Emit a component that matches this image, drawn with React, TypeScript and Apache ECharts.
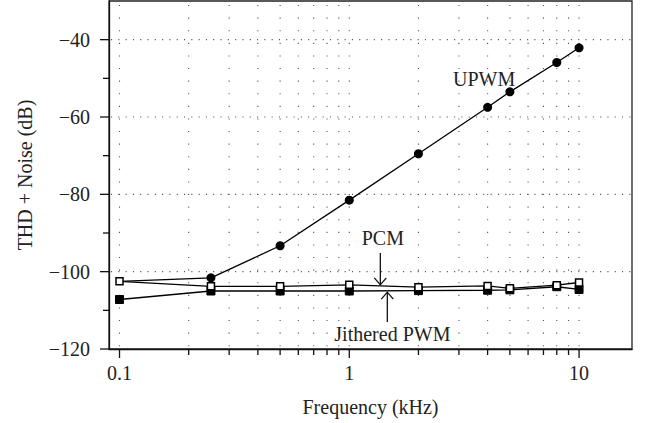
import React, { useEffect, useRef } from "react";
import * as echarts from "echarts";

const X_MIN = 0.09;
const X_MAX = 17;
const Y_MIN = -120;
const Y_MAX = -30;

const frequencies = [0.1, 0.25, 0.5, 1, 2, 4, 5, 8, 10];
const upwm = [-102.5, -101.6, -93.3, -81.5, -69.5, -57.5, -53.5, -45.9, -42.1];
const pcm = [-102.5, -103.8, -103.8, -103.4, -104.0, -103.7, -104.3, -103.5, -102.8];
const jitteredPwm = [-107.2, -105.0, -105.0, -105.0, -104.9, -104.8, -104.7, -103.9, -104.6];

const xGridValues = [
  0.1, 0.2, 0.3, 0.4, 0.5, 0.6, 0.7, 0.8, 0.9,
  1, 2, 3, 4, 5, 6, 7, 8, 9, 10,
];
const xLabelValues = [0.1, 1, 10];
const yTickValues = [-120, -110, -100, -90, -80, -70, -60, -50, -40];
const yLabelValues = [-120, -100, -80, -60, -40];
const yGridValues = [-100, -80, -60, -40];

const FONT = '"Liberation Serif", "Times New Roman", serif';
const INK = "#222";

const isMajorX = (v: number) => xLabelValues.some((m) => Math.abs(m - v) < 1e-9);
const isLabelY = (v: number) => yLabelValues.some((m) => Math.abs(m - v) < 1e-9);

export default function App() {
  const ref = useRef<HTMLDivElement>(null);

  useEffect(() => {
    if (!ref.current) return;
    const chart = echarts.init(ref.current, undefined, { renderer: "svg" });

    const option: any = {
      animation: false,
      backgroundColor: "#fff",
      textStyle: { fontFamily: FONT, color: INK },
      grid: {
        left: 109,
        right: 22,
        top: 1,
        bottom: 74,
        show: true,
        borderColor: "#222",
        borderWidth: 1.3,
        backgroundColor: "transparent",
      },
      xAxis: {
        type: "log",
        logBase: 10,
        min: X_MIN,
        max: X_MAX,
        name: "Frequency (kHz)",
        nameLocation: "middle",
        nameGap: 48,
        nameTextStyle: { fontFamily: FONT, fontSize: 20, color: INK },
        axisLine: { show: true, lineStyle: { color: "#111", width: 1.3 } },
        axisTick: { show: false },
        splitLine: { show: false },
        axisLabel: {
          margin: 14,
          fontFamily: FONT,
          fontSize: 20,
          color: INK,
          showMinLabel: true,
          showMaxLabel: true,
          formatter: (v: number) => {
            const l = Math.log10(v);
            return Math.abs(l - Math.round(l)) < 1e-6 ? String(+v.toPrecision(6)) : "";
          },
        },
      },
      yAxis: {
        type: "value",
        min: Y_MIN,
        max: Y_MAX,
        interval: 20,
        name: "THD + Noise (dB)",
        nameLocation: "middle",
        nameGap: 74,
        nameTextStyle: { fontFamily: FONT, fontSize: 20, color: INK },
        axisLine: { show: true, lineStyle: { color: "#111", width: 1.3 } },
        axisTick: { show: false },
        splitLine: { show: false },
        axisLabel: {
          margin: 19,
          fontFamily: FONT,
          fontSize: 20,
          color: INK,
          formatter: (v: number) => (isLabelY(v) ? "\u2212" + Math.abs(v) : ""),
        },
      },
      series: [
        {
          name: "xgrid",
          type: "custom",
          clip: false,
          silent: true,
          z: 1,
          data: xGridValues.map((v) => [v, Y_MIN]),
          renderItem: (params: any, api: any) => {
            const v = api.value(0);
            const bot = api.coord([v, Y_MIN]);
            const top = api.coord([v, Y_MAX]);
            const len = isMajorX(v) ? 9 : 6;
            return {
              type: "group",
              children: [
                {
                  type: "line",
                  shape: { x1: top[0], y1: top[1] + 4, x2: bot[0], y2: bot[1] },
                  style: { stroke: "#555", lineWidth: 1.1, lineDash: [1.1, 11.5] },
                },
                {
                  type: "line",
                  shape: { x1: bot[0], y1: bot[1], x2: bot[0], y2: bot[1] + len },
                  style: { stroke: "#111", lineWidth: 1.3 },
                },
              ],
            };
          },
        },
        {
          name: "ygrid",
          type: "custom",
          clip: false,
          silent: true,
          z: 1,
          data: yTickValues.map((v) => [X_MIN, v]),
          renderItem: (params: any, api: any) => {
            const v = api.value(1);
            const l = api.coord([X_MIN, v]);
            const r = api.coord([X_MAX, v]);
            const len = isLabelY(v) ? 9 : 6;
            const children: any[] = [
              {
                type: "line",
                shape: { x1: l[0], y1: l[1], x2: l[0] - len, y2: l[1] },
                style: { stroke: "#111", lineWidth: 1.3 },
              },
            ];
            if (yGridValues.some((g) => Math.abs(g - v) < 1e-9)) {
              children.push({
                type: "line",
                shape: { x1: l[0] + 2, y1: l[1], x2: r[0], y2: r[1] },
                style: { stroke: "#555", lineWidth: 1.1, lineDash: [1.1, 6.2] },
              });
            }
            return { type: "group", children };
          },
        },
        {
          name: "UPWM",
          type: "line",
          z: 3,
          symbol: "circle",
          symbolSize: 9,
          lineStyle: { color: "#000", width: 1.3 },
          itemStyle: { color: "#000" },
          data: frequencies.map((f, i) =>
            i === 0 ? { value: [f, upwm[i]], symbol: "none" } : [f, upwm[i]]
          ),
        },
        {
          name: "Jithered PWM",
          type: "line",
          z: 4,
          symbol: "rect",
          symbolSize: 8,
          lineStyle: { color: "#000", width: 1.3 },
          itemStyle: { color: "#000", borderColor: "#000", borderWidth: 1 },
          data: frequencies.map((f, i) => [f, jitteredPwm[i]]),
        },
        {
          name: "PCM",
          type: "line",
          z: 5,
          symbol: "rect",
          symbolSize: 7,
          lineStyle: { color: "#000", width: 1.3 },
          itemStyle: { color: "#fff", borderColor: "#000", borderWidth: 1.5 },
          data: frequencies.map((f, i) => [f, pcm[i]]),
        },
      ],
    };

    chart.setOption(option);

    const px = (x: number, y: number) =>
      chart.convertToPixel({ xAxisIndex: 0, yAxisIndex: 0 }, [x, y]) as number[];

    const arrow = (x: number, yFrom: number, yTo: number) => {
      const a = px(x, yFrom);
      const b = px(x, yTo);
      const dir = b[1] > a[1] ? 1 : -1;
      return [
        {
          type: "line",
          shape: { x1: a[0], y1: a[1], x2: b[0], y2: b[1] },
          style: { stroke: "#111", lineWidth: 1.3 },
          z: 10,
        },
        {
          type: "polyline",
          shape: {
            points: [
              [b[0] - 6, b[1] - 7 * dir],
              [b[0], b[1]],
              [b[0] + 6, b[1] - 7 * dir],
            ],
          },
          style: { stroke: "#111", lineWidth: 1.3, fill: "none" },
          z: 10,
        },
      ];
    };

    const label = (text: string, x: number, y: number) => {
      const p = px(x, y);
      return {
        type: "text",
        x: p[0],
        y: p[1],
        z: 10,
        style: {
          text,
          fontFamily: FONT,
          fontSize: 20,
          fill: INK,
          align: "center",
          verticalAlign: "middle",
        },
      };
    };

    chart.setOption({
      graphic: [
        label("UPWM", 3.86, -50.1),
        label("PCM", 1.4, -91.4),
        label("Jithered PWM", 1.54, -116.1),
        ...arrow(1.365, -95.2, -103.4),
        ...arrow(1.464, -113.0, -105.3),
      ],
    });

    return () => chart.dispose();
  }, []);

  return (
    <div
      ref={ref}
      style={{ position: "fixed", left: 0, top: 0, width: 654, height: 423, background: "#fff" }}
    />
  );
}
